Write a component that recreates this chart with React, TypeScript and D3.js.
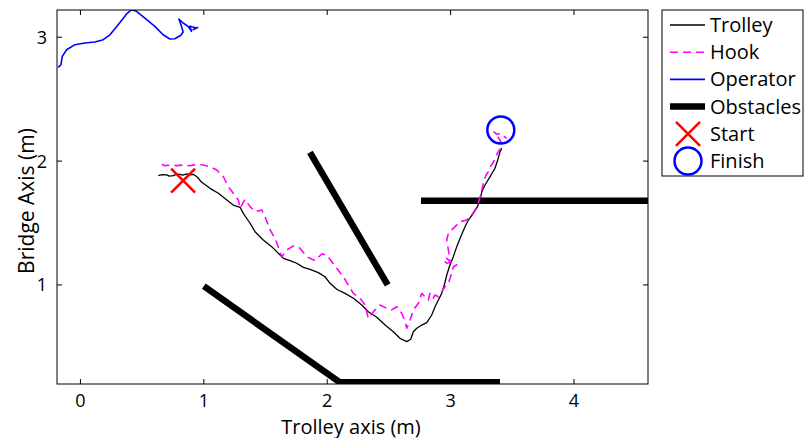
import React from "react";
import * as d3 from "d3";

const xTicks = [0, 1, 2, 3, 4];
const yTicks = [1, 2, 3];

const trolleyX = [0.631, 0.66, 0.699, 0.72, 0.753, 0.78, 0.807, 0.83, 0.862, 0.89, 0.915, 0.943, 0.983, 1.05, 1.118, 1.186, 1.239, 1.294, 1.32, 1.375, 1.415, 1.482, 1.55, 1.618, 1.645, 1.699, 1.753, 1.807, 1.861, 1.928, 1.982, 2.023, 2.077, 2.145, 2.212, 2.28, 2.333, 2.402, 2.469, 2.536, 2.59, 2.645, 2.677, 2.698, 2.726, 2.766, 2.807, 2.847, 2.874, 2.901, 2.928, 2.949, 2.969, 2.99, 3.022, 3.05, 3.077, 3.117, 3.144, 3.184, 3.217, 3.239, 3.253, 3.279, 3.32, 3.36, 3.382, 3.401, 3.415];
const trolleyY = [1.882, 1.89, 1.888, 1.878, 1.882, 1.895, 1.893, 1.886, 1.896, 1.889, 1.893, 1.874, 1.829, 1.78, 1.74, 1.686, 1.645, 1.627, 1.578, 1.498, 1.43, 1.363, 1.309, 1.242, 1.215, 1.196, 1.175, 1.142, 1.126, 1.099, 1.066, 1.013, 0.965, 0.932, 0.892, 0.838, 0.784, 0.739, 0.676, 0.622, 0.569, 0.542, 0.561, 0.622, 0.65, 0.676, 0.695, 0.757, 0.824, 0.878, 0.932, 0.999, 1.08, 1.147, 1.228, 1.309, 1.376, 1.47, 1.524, 1.578, 1.632, 1.686, 1.753, 1.807, 1.874, 1.942, 2.009, 2.076, 2.103];

const hookX = [0.659, 0.686, 0.74, 0.781, 0.834, 0.888, 0.943, 0.996, 1.05, 1.105, 1.158, 1.199, 1.239, 1.28, 1.294, 1.334, 1.375, 1.415, 1.469, 1.496, 1.537, 1.577, 1.632, 1.672, 1.726, 1.78, 1.834, 1.901, 1.956, 1.996, 2.037, 2.077, 2.131, 2.171, 2.212, 2.266, 2.307, 2.333, 2.374, 2.428, 2.483, 2.523, 2.564, 2.604, 2.631, 2.645, 2.672, 2.698, 2.739, 2.766, 2.793, 2.82, 2.833, 2.86, 2.874, 2.901, 2.928, 2.955, 2.982, 3.009, 3.022, 3.05, 3.022, 2.969, 2.941, 2.969, 2.996, 2.982, 2.969, 2.982, 3.022, 3.077, 3.131, 3.171, 3.198, 3.225, 3.239, 3.253, 3.266, 3.287, 3.306, 3.32, 3.342, 3.36, 3.379, 3.401, 3.415, 3.385, 3.352, 3.376, 3.401, 3.428, 3.455];
const hookY = [1.974, 1.963, 1.968, 1.963, 1.968, 1.963, 1.974, 1.968, 1.955, 1.928, 1.874, 1.793, 1.74, 1.686, 1.619, 1.691, 1.632, 1.591, 1.605, 1.551, 1.444, 1.376, 1.228, 1.282, 1.314, 1.296, 1.228, 1.196, 1.25, 1.242, 1.188, 1.134, 1.066, 0.999, 0.932, 0.892, 0.838, 0.73, 0.784, 0.838, 0.811, 0.798, 0.824, 0.771, 0.703, 0.65, 0.717, 0.798, 0.852, 0.932, 0.905, 0.878, 0.932, 0.892, 0.919, 0.905, 0.945, 0.986, 1.013, 1.094, 1.147, 1.161, 1.188, 1.175, 1.201, 1.215, 1.188, 1.282, 1.363, 1.417, 1.457, 1.511, 1.524, 1.565, 1.605, 1.659, 1.712, 1.767, 1.821, 1.888, 1.914, 1.955, 1.982, 2.022, 2.063, 2.095, 2.144, 2.194, 2.235, 2.216, 2.224, 2.203, 2.184];

const operatorX = [-0.18, -0.158, -0.147, -0.112, -0.045, 0.036, 0.117, 0.185, 0.239, 0.306, 0.374, 0.415, 0.455, 0.522, 0.603, 0.67, 0.725, 0.765, 0.814, 0.832, 0.819, 0.798, 0.832, 0.873, 0.9, 0.887, 0.941, 0.913, 0.954];
const operatorY = [2.757, 2.778, 2.846, 2.899, 2.94, 2.953, 2.962, 2.98, 3.02, 3.101, 3.188, 3.222, 3.209, 3.155, 3.088, 3.02, 2.986, 2.988, 3.016, 3.042, 3.088, 3.147, 3.115, 3.088, 3.048, 3.088, 3.075, 3.061, 3.08];

const obstacle1X = [1.0, 2.1, 3.4];
const obstacle1Y = [0.99, 0.215, 0.215];
const obstacle2X = [1.86, 2.49];
const obstacle2Y = [2.07, 1.0];
const obstacle3X = [2.76, 4.7];
const obstacle3Y = [1.68, 1.68];

const startPoint = [0.832, 1.843];
const finishPoint = [3.407, 2.251];

const legendLabels = ["Trolley", "Hook", "Operator", "Obstacles", "Start", "Finish"];

const FONT = "'Open Sans', sans-serif";

export default function App() {
  const left = 57, right = 648, top = 10, bottom = 384;
  const x = d3.scaleLinear().domain([-0.19, 4.6]).range([left, right]);
  const y = d3.scaleLinear().domain([0.2, 3.22]).range([bottom, top]);

  const zip = (xs: number[], ys: number[]) => xs.map((v, i) => [v, ys[i]] as [number, number]);
  const line = d3.line<[number, number]>().x(d => x(d[0])).y(d => y(d[1]));

  const sx = x(startPoint[0]), sy = y(startPoint[1]);
  const fx = x(finishPoint[0]), fy = y(finishPoint[1]);

  const legX = 662, legY = 10, legW = 141, legH = 166;
  const rowY = (i: number) => 25 + i * 27.2;
  const l0 = 670, l1 = 705, tx = 710;

  return (
    <div style={{ position: "fixed", left: 0, top: 0 }}>
      <svg width={804} height={438} style={{ display: "block", background: "#fff" }}>
        <defs>
          <clipPath id="plotclip">
            <rect x={left} y={top} width={right - left} height={bottom - top} />
          </clipPath>
        </defs>
        <rect x={0} y={0} width={804} height={438} fill="#fff" />
        <g clipPath="url(#plotclip)">
          {[zip(obstacle1X, obstacle1Y), zip(obstacle2X, obstacle2Y), zip(obstacle3X, obstacle3Y)].map((pts, i) => (
            <path key={i} d={line(pts) || ""} fill="none" stroke="#000" strokeWidth={6.5} strokeLinejoin="miter" />
          ))}
          <path d={line(zip(operatorX, operatorY)) || ""} fill="none" stroke="#0000ff" strokeWidth={1.6} strokeLinejoin="round" />
          <path d={line(zip(trolleyX, trolleyY)) || ""} fill="none" stroke="#000" strokeWidth={1.3} strokeLinejoin="round" />
          <path d={line(zip(hookX, hookY)) || ""} fill="none" stroke="#ff00ff" strokeWidth={1.6} strokeDasharray="8,5" strokeLinejoin="round" />
          <g stroke="#ff0000" strokeWidth={2.5}>
            <line x1={sx - 12} y1={sy - 12} x2={sx + 12} y2={sy + 12} />
            <line x1={sx - 12} y1={sy + 12} x2={sx + 12} y2={sy - 12} />
          </g>
          <circle cx={fx} cy={fy} r={13.5} fill="none" stroke="#0000ff" strokeWidth={2.5} />
        </g>
        <rect x={left} y={top} width={right - left} height={bottom - top} fill="none" stroke="#000" strokeWidth={1} />
        {xTicks.map(t => (
          <g key={"xt" + t}>
            <line x1={x(t)} x2={x(t)} y1={bottom} y2={bottom - 5} stroke="#000" />
            <line x1={x(t)} x2={x(t)} y1={top} y2={top + 5} stroke="#000" />
            <text x={x(t)} y={406.5} textAnchor="middle" fontFamily={FONT} fontSize={18}>{t}</text>
          </g>
        ))}
        {yTicks.map(t => (
          <g key={"yt" + t}>
            <line x1={left} x2={left + 5} y1={y(t)} y2={y(t)} stroke="#000" />
            <line x1={right} x2={right - 5} y1={y(t)} y2={y(t)} stroke="#000" />
            <text x={47} y={y(t) + 6.5} textAnchor="end" fontFamily={FONT} fontSize={18}>{t}</text>
          </g>
        ))}
        <text x={351} y={433.5} textAnchor="middle" fontFamily={FONT} fontSize={20}>Trolley axis (m)</text>
        <text transform={`translate(34,201) rotate(-90)`} textAnchor="middle" fontFamily={FONT} fontSize={21}>Bridge Axis (m)</text>

        <rect x={legX} y={legY} width={legW} height={legH} fill="#fff" stroke="#000" strokeWidth={1} />
        <line x1={l0} x2={l1} y1={rowY(0)} y2={rowY(0)} stroke="#000" strokeWidth={1.3} />
        <line x1={l0} x2={l1} y1={rowY(1)} y2={rowY(1)} stroke="#ff00ff" strokeWidth={1.6} strokeDasharray="8,5" />
        <line x1={l0} x2={l1} y1={rowY(2)} y2={rowY(2)} stroke="#0000ff" strokeWidth={1.6} />
        <line x1={l0} x2={l1} y1={rowY(3)} y2={rowY(3)} stroke="#000" strokeWidth={6.5} />
        <g stroke="#ff0000" strokeWidth={2.5}>
          <line x1={676} y1={rowY(4) - 12} x2={700} y2={rowY(4) + 12} />
          <line x1={676} y1={rowY(4) + 12} x2={700} y2={rowY(4) - 12} />
        </g>
        <circle cx={688} cy={rowY(5)} r={13.5} fill="none" stroke="#0000ff" strokeWidth={2.5} />
        {legendLabels.map((lab, i) => (
          <text key={lab} x={tx} y={rowY(i) + 7} fontFamily={FONT} fontSize={20}>{lab}</text>
        ))}
      </svg>
    </div>
  );
}
